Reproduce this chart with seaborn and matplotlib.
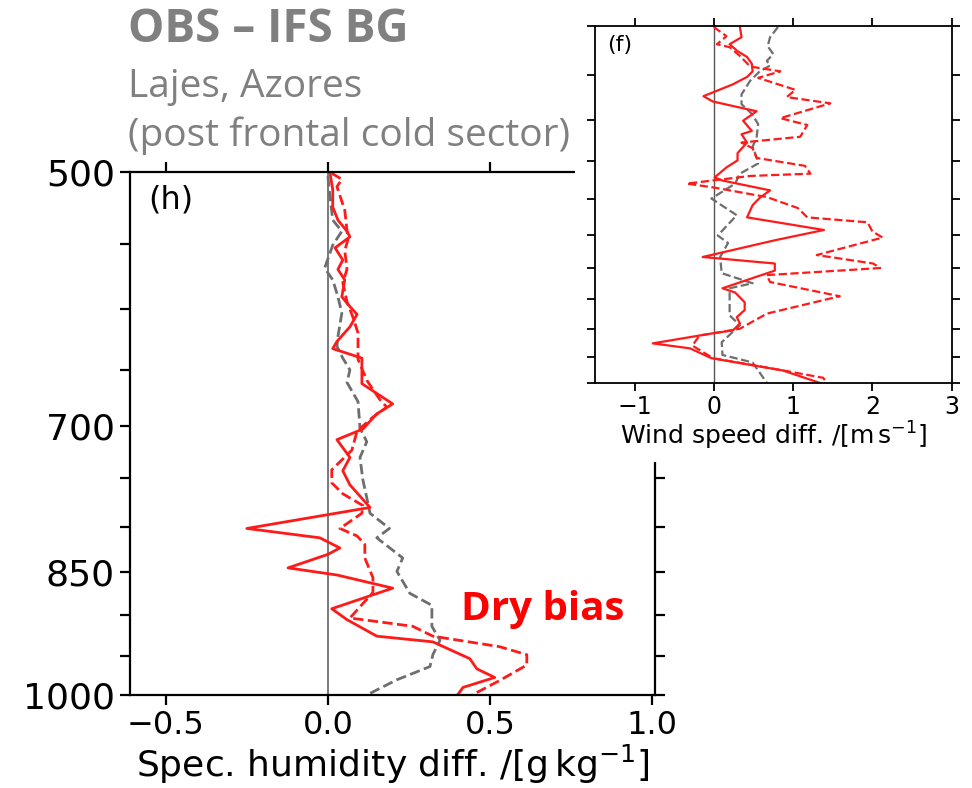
import matplotlib
matplotlib.use("Agg")
import matplotlib.pyplot as plt
import matplotlib.patches as mpatches
import matplotlib.ticker as mticker
import pandas as pd
import seaborn as sns

# ---- panel (h): specific humidity difference vs pressure (hPa) ----
q_solid_p = [500, 512, 524, 533, 541, 545, 553, 562, 569, 577, 590, 596, 604, 614,
             626, 632, 640, 662, 680, 689, 703, 713, 730, 743, 757, 780, 802, 812,
             823, 830, 845, 853, 868, 892, 905, 925, 932, 953, 966, 977, 990, 1000]
q_solid = [0.006, 0.015, 0.015, 0.031, 0.059, 0.068, 0.022, 0.046, 0.031, 0.052, 0.043,
           0.062, 0.090, 0.068, 0.028, 0.015, 0.105, 0.105, 0.200, 0.151, 0.108, 0.028,
           0.068, 0.046, 0.068, 0.130, -0.250, -0.025, 0.037, 0.0, -0.123, 0.028, 0.200,
           0.012, 0.059, 0.151, 0.324, 0.438, 0.460, 0.515, 0.417, 0.400]

q_dash_p = [501, 505, 510, 526, 547, 555, 569, 579, 594, 606, 619, 641, 659, 676, 683,
            692, 705, 723, 742, 755, 766, 778, 786, 802, 810, 819, 834, 856, 873, 903,
            913, 925, 938, 948, 961, 981, 1000]
q_dash = [0.012, 0.043, 0.028, 0.052, 0.062, 0.052, 0.059, 0.046, 0.059, 0.077, 0.093,
          0.093, 0.120, 0.160, 0.182, 0.139, 0.090, 0.074, 0.012, 0.012, 0.046, 0.108,
          0.105, 0.037, 0.090, 0.114, 0.114, 0.139, 0.139, 0.068, 0.262, 0.324, 0.530,
          0.614, 0.614, 0.530, 0.445]

q_grey_p = [503, 516, 533, 541, 551, 568, 577, 590, 603, 622, 630, 640, 650, 661, 678,
            702, 715, 730, 752, 770, 786, 802, 812, 834, 849, 874, 888, 913, 930, 948,
            963, 980, 1000]
q_grey = [0.0, 0.006, 0.015, 0.043, 0.015, -0.01, 0.015, 0.031, 0.043, 0.031, 0.028,
          0.046, 0.068, 0.059, 0.093, 0.099, 0.120, 0.099, 0.108, 0.120, 0.130, 0.190,
          0.151, 0.231, 0.213, 0.253, 0.321, 0.321, 0.346, 0.324, 0.315, 0.213, 0.120]

# ---- panel (f): wind speed difference vs pressure (hPa) ----
w_solid_p = [501, 511, 518, 525, 531, 538, 546, 552, 560, 567, 573, 579, 584, 590, 601,
             613, 617, 627, 640, 649, 658, 671, 675, 688, 698, 708, 725, 743, 758, 783,
             793, 804, 832, 839, 855, 868, 880, 891, 903, 908, 926, 935, 953, 976, 1000]
w_solid = [0.33, 0.35, 0.20, 0.30, 0.42, 0.48, 0.49, 0.42, 0.24, 0.04, -0.13, -0.01,
           0.24, 0.54, 0.37, 0.48, 0.35, 0.42, 0.30, 0.30, 0.16, 0.01, 0.11, 0.71, 0.58,
           0.49, 0.42, 1.39, 0.77, -0.14, 0.77, 0.77, 0.11, 0.27, 0.39, 0.39, 0.29, 0.33,
           0.24, -0.01, -0.77, -0.30, -0.03, 0.87, 1.34]

w_dash_p = [501, 510, 518, 521, 530, 541, 546, 553, 566, 574, 581, 598, 606, 620, 627,
            634, 646, 656, 666, 669, 679, 684, 697, 712, 725, 732, 745, 754, 780, 793,
            800, 811, 822, 845, 874, 900, 907, 912, 930, 953, 975, 990, 1000]
w_dash = [0.0, 0.16, 0.04, 0.20, 0.33, 0.46, 0.84, 0.56, 1.03, 0.92, 1.47, 0.84, 1.18,
          1.09, 0.35, 0.49, 0.54, 1.15, 1.22, 0.46, -0.34, -0.01, 0.67, 1.06, 1.18, 1.94,
          2.00, 2.13, 1.30, 2.01, 2.10, 0.67, 0.71, 1.59, 0.67, 0.33, 0.04, -0.18, -0.27,
          -0.01, 0.84, 1.38, 1.43]

w_grey_p = [501, 511, 520, 528, 535, 540, 546, 556, 571, 582, 593, 605, 621, 632, 645,
            653, 666, 679, 699, 722, 751, 762, 783, 808, 824, 832, 877, 894, 924, 947,
            961, 1000]
w_grey = [0.81, 0.71, 0.68, 0.75, 0.67, 0.71, 0.58, 0.46, 0.35, 0.35, 0.48, 0.56, 0.54,
          0.49, 0.54, 0.56, 0.33, 0.27, -0.03, 0.29, 0.05, 0.18, 0.08, 0.10, 0.49, 0.20,
          0.20, 0.33, 0.10, 0.11, 0.49, 0.67]

p_ticks = [500, 550, 600, 650, 700, 750, 800, 850, 900, 950, 1000]
p_labels = ["500", "", "", "", "700", "", "", "850", "", "", "1000"]
q_ticks = [-0.5, 0.0, 0.5, 1.0]
w_ticks = [-1, 0, 1, 2, 3]

RED = "#ff1a1a"
GREY = "#6e6e6e"


def draw_profile(ax, p, vals, color, ls, lw):
    df = pd.DataFrame({"p": p, "v": vals})
    sns.lineplot(data=df, x="v", y="p", orient="y", sort=False, estimator=None,
                 color=color, linestyle=ls, linewidth=lw, ax=ax)


def style_pressure_axis(ax, show_labels, lw):
    ax.set_yscale("log")
    ax.set_ylim(1000, 500)
    ax.yaxis.set_major_locator(mticker.FixedLocator(p_ticks))
    ax.yaxis.set_minor_locator(mticker.NullLocator())
    if show_labels:
        ax.yaxis.set_major_formatter(mticker.FixedFormatter(p_labels))
    else:
        ax.yaxis.set_major_formatter(mticker.NullFormatter())
    ax.tick_params(axis="both", which="both", direction="out", top=True, right=True,
                   labeltop=False, labelright=False, width=lw, colors="black")
    for s in ax.spines.values():
        s.set_linewidth(lw)
        s.set_color("black")
    ax.set_ylabel("")


sns.set_theme(style="ticks")
plt.rcParams["font.family"] = ["DejaVu Sans"]
plt.rcParams["text.color"] = "black"
plt.rcParams["axes.labelcolor"] = "black"

fig = plt.figure(figsize=(9.72, 7.88), dpi=100)

# main panel (h)
ax = fig.add_axes([0.134, 0.118, 0.540, 0.664])
ax.axvline(0, color="#555555", lw=1.1, zorder=1)
draw_profile(ax, q_grey_p, q_grey, GREY, "--", 2.0)
draw_profile(ax, q_dash_p, q_dash, RED, "--", 2.0)
draw_profile(ax, q_solid_p, q_solid, RED, "-", 2.0)
ax.set_xlim(-0.61, 1.01)
ax.set_xticks(q_ticks)
style_pressure_axis(ax, True, 1.6)
ax.tick_params(axis="x", labelsize=23, length=7, pad=4)
ax.tick_params(axis="y", labelsize=26, length=7, pad=4)
ax.set_xlabel(r"Spec. humidity diff. /[g$\,$kg$^{-1}$]", fontsize=26, labelpad=1)
ax.text(0.034, 0.975, "(h)", transform=ax.transAxes, fontsize=23, va="top", ha="left")
ax.text(0.41, 905, "Dry bias", color="red", fontsize=29, fontweight="bold",
        family=["Open Sans", "DejaVu Sans"], va="baseline", ha="left")

# white backing of the pasted wind panel
fig.patches.append(mpatches.Rectangle((0.5916, 0.4137), 0.4084, 0.5863,
                                      transform=fig.transFigure, facecolor="white",
                                      edgecolor="none", zorder=1))

# inset panel (f)
axf = fig.add_axes([0.612, 0.514, 0.367, 0.453], zorder=2)
axf.axvline(0, color="#555555", lw=1.0, zorder=1)
draw_profile(axf, w_grey_p, w_grey, GREY, "--", 1.6)
draw_profile(axf, w_dash_p, w_dash, RED, "--", 1.6)
draw_profile(axf, w_solid_p, w_solid, RED, "-", 1.6)
axf.set_xlim(-1.5, 3.0)
axf.set_xticks(w_ticks)
style_pressure_axis(axf, False, 1.3)
axf.tick_params(labelsize=17, length=6, pad=3)
axf.set_xlabel(r"Wind speed diff. /[m$\,$s$^{-1}$]", fontsize=18, labelpad=0)
axf.text(0.034, 0.975, "(f)", transform=axf.transAxes, fontsize=16, va="top", ha="left")

# header text
grey_txt = "#808080"
fig.text(0.1317, 0.9467, "OBS \u2013 IFS BG", color=grey_txt, fontsize=33,
         fontweight="bold", family=["Open Sans", "DejaVu Sans"], va="baseline")
fig.text(0.1317, 0.877, "Lajes, Azores", color=grey_txt, fontsize=28,
         family=["Open Sans", "DejaVu Sans"], va="baseline")
fig.text(0.1317, 0.8147, "(post frontal cold sector)", color=grey_txt, fontsize=28,
         family=["Open Sans", "DejaVu Sans"], va="baseline")

fig.savefig("out.png", dpi=100)
plt.close(fig)
